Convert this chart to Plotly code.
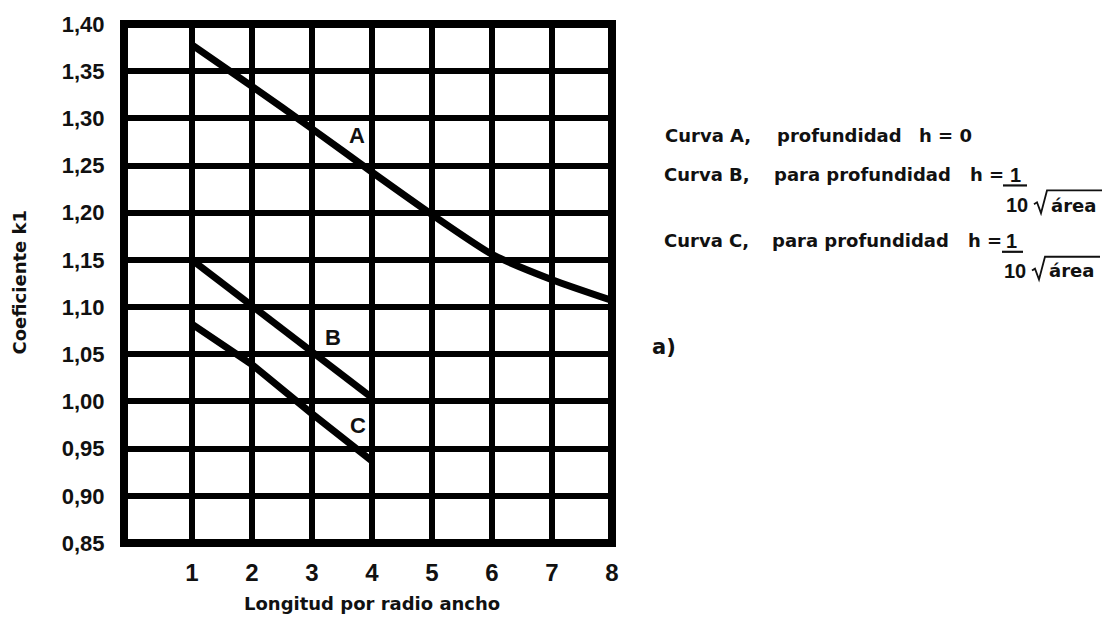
import plotly.graph_objects as go

# Coeficiente k1 frente a longitud por radio ancho
longitud_a = [1, 2, 3, 4, 5, 6, 7, 8]
curva_a = [1.378, 1.334, 1.289, 1.243, 1.198, 1.156, 1.129, 1.107]

longitud_bc = [1, 2, 3, 4]
curva_b = [1.150, 1.102, 1.052, 1.004]
curva_c = [1.082, 1.039, 0.987, 0.937]

x_ticks = [1, 2, 3, 4, 5, 6, 7, 8]
y_ticks = [0.85, 0.90, 0.95, 1.00, 1.05, 1.10, 1.15, 1.20, 1.25, 1.30, 1.35, 1.40]
y_tick_text = ["0,85", "0,90", "0,95", "1,00", "1,05", "1,10", "1,15",
               "1,20", "1,25", "1,30", "1,35", "1,40"]

# curve name -> (x, y) of its letter label
curve_labels = {"A": (3.75, 1.282), "B": (3.35, 1.068), "C": (3.77, 0.974)}

W, H = 1111, 619
L, R, T, B = 124, 612, 19, 543
FONT = "Liberation Sans, Arial, sans-serif"
TEXT_FONT = "DejaVu Sans, Liberation Sans, sans-serif"
INK = "#111111"


def px(x):
    return (x - L) / (R - L)


def py(y):
    return (B - y) / (B - T)


fig = go.Figure()

line_style = dict(color="black", width=7)
fig.add_trace(go.Scatter(x=longitud_a, y=curva_a, mode="lines",
                         line=dict(shape="spline", smoothing=0.6, **line_style),
                         hoverinfo="skip"))
fig.add_trace(go.Scatter(x=longitud_bc, y=curva_b, mode="lines",
                         line=line_style, hoverinfo="skip"))
fig.add_trace(go.Scatter(x=longitud_bc, y=curva_c, mode="lines",
                         line=line_style, hoverinfo="skip"))

annotations = []
for name, (lx, ly) in curve_labels.items():
    annotations.append(dict(x=lx, y=ly, xref="x", yref="y", text=f"<b>{name}</b>",
                            showarrow=False, font=dict(family=FONT, size=22, color=INK)))


def note(text, x, y, size=18, anchor="left", family=TEXT_FONT):
    annotations.append(dict(x=px(x), y=py(y), xref="paper", yref="paper",
                            text=f"<b>{text}</b>", showarrow=False,
                            xanchor=anchor, yanchor="middle",
                            font=dict(family=family, size=size, color=INK)))


# Leyenda de las curvas
note("Curva A,", 663, 132)
note("profundidad", 775, 132)
note("h = 0", 917, 132)

note("Curva B,", 662, 171)
note("para profundidad", 772, 171)
note("h =", 968, 171)
note("1", 1015, 171, anchor="center", family=FONT, size=20)
note("10", 1004, 202, family=FONT, size=20)
note("área", 1049, 202)

note("Curva C,", 662, 238)
note("para profundidad", 770, 238)
note("h =", 966, 238)
note("1", 1011, 238, anchor="center", family=FONT, size=20)
note("10", 1002, 268, family=FONT, size=20)
note("área", 1047, 268)

note("a)", 650, 345, size=21)

# Títulos de los ejes
annotations.append(dict(x=px(20), y=py(280), xref="paper", yref="paper",
                        text="<b>Coeficiente k1</b>", textangle=-90, showarrow=False,
                        xanchor="center", yanchor="middle",
                        font=dict(family=TEXT_FONT, size=18, color=INK)))
annotations.append(dict(x=px(372), y=py(604), xref="paper", yref="paper",
                        text="<b>Longitud por radio ancho</b>", showarrow=False,
                        xanchor="center", yanchor="middle",
                        font=dict(family=TEXT_FONT, size=18, color=INK)))


def radical(x0, y_top, x1):
    """Radical sign with its bar, drawn from the hook at x0 to the end of the bar at x1."""
    pts = [(x0, y_top + 14), (x0 + 3, y_top + 12), (x0 + 7, y_top + 23),
           (x0 + 13, y_top), (x1, y_top)]
    path = "M " + " L ".join(f"{px(a):.5f},{py(b):.5f}" for a, b in pts)
    return dict(type="path", xref="paper", yref="paper", path=path,
                line=dict(color=INK, width=1.8))


shapes = [
    # marco del gráfico
    dict(type="rect", xref="paper", yref="paper", x0=0, x1=1, y0=0, y1=1,
         line=dict(color="black", width=8), layer="above"),
    # barras de fracción
    dict(type="line", xref="paper", yref="paper", x0=px(1003), x1=px(1027),
         y0=py(182), y1=py(182), line=dict(color=INK, width=2.2)),
    dict(type="line", xref="paper", yref="paper", x0=px(1002), x1=px(1023),
         y0=py(249), y1=py(249), line=dict(color=INK, width=2.2)),
    # raíces
    radical(1034, 187, 1102),
    radical(1032, 254, 1100),
]

axis_font = dict(family=FONT, size=22, color=INK, weight="bold")

fig.update_layout(
    width=W, height=H,
    margin=dict(l=L, r=W - R, t=T, b=H - B, pad=0),
    paper_bgcolor="white", plot_bgcolor="white",
    showlegend=False,
    annotations=annotations,
    shapes=shapes,
    xaxis=dict(range=[-0.133, 8], tickvals=x_ticks, ticktext=[str(v) for v in x_ticks],
               showgrid=True, gridcolor="black", gridwidth=6, zeroline=False,
               showline=False, ticks="outside", ticklen=8,
               tickcolor="rgba(0,0,0,0)", tickfont=dict(axis_font, size=24),
               fixedrange=True),
    yaxis=dict(range=[0.85, 1.40], tickvals=y_ticks, ticktext=y_tick_text,
               showgrid=True, gridcolor="black", gridwidth=6, zeroline=False,
               showline=False, ticks="outside", ticklen=14,
               tickcolor="rgba(0,0,0,0)", tickfont=axis_font,
               fixedrange=True),
)

fig.write_html("out.html")
